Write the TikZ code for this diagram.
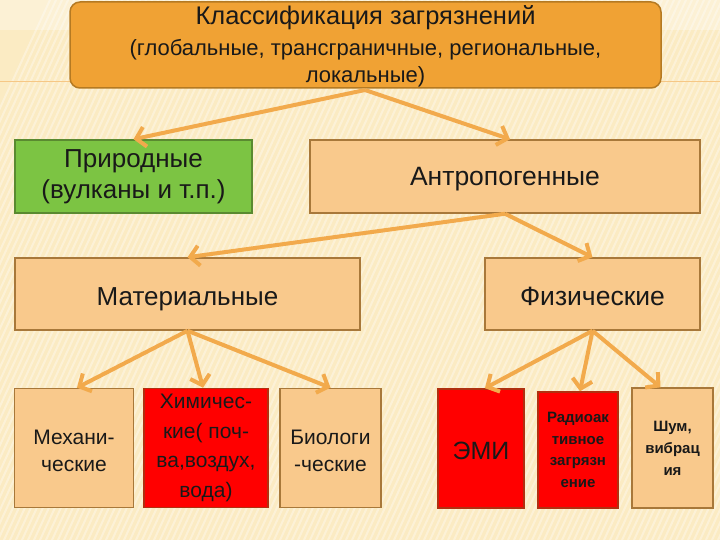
\documentclass[tikz,border=0pt]{standalone}
\usepackage{fontspec}
\setmainfont{Liberation Sans}
\usetikzlibrary{arrows.meta,calc}
\definecolor{bg}{HTML}{FBEBC3}
\definecolor{topfill}{HTML}{F0A234}
\definecolor{topdraw}{HTML}{B57A22}
\definecolor{peach}{HTML}{F9C98C}
\definecolor{peachdraw}{HTML}{A8783A}
\definecolor{grn}{HTML}{7CC443}
\definecolor{grndraw}{HTML}{5A8A30}
\definecolor{redfill}{HTML}{FF0000}
\definecolor{reddraw}{HTML}{B03010}
\definecolor{arr}{HTML}{F2AA4C}
\newcommand{\fs}[2]{\fontsize{#1}{#2}\selectfont}
\tikzset{
  box/.style={draw, line width=1.5pt, rectangle, inner sep=0pt, align=center, text=black!90},
  peachbox/.style={box, fill=peach, draw=peachdraw},
  redbox/.style={box, fill=redfill, draw=reddraw},
  greenbox/.style={box, fill=grn, draw=grndraw},
  lbl/.style={align=center, text=black!90, inner sep=0pt},
  arrow/.style={draw=arr, line width=4pt, -{Straight Barb[length=9pt,width=20pt,line width=4pt]}}
}
\begin{document}
\begin{tikzpicture}[x=1pt,y=-1pt]
\fill[bg] (0,0) rectangle (720,540);
\useasboundingbox (0,0) rectangle (720,540);
\begin{scope}
\clip (0,0) rectangle (720,540);
\foreach \i in {-200,-194,...,720} {
  \draw[white, opacity=0.35, line width=2pt] (\i,540) -- (\i+250,0);
}
\end{scope}
\fill[white, opacity=0.3] (0,0) rectangle (720,30);
\draw[topfill!60, line width=1pt] (0,82) -- (720,82);

\node[box, fill=topfill, draw=topdraw, rounded corners=10pt, minimum width=591pt, minimum height=86pt] (top) at (365.5,45) {};
\node[font=\fs{25.5}{30}, text=black!90] (t1) at (365.5,18) {Классификация загрязнений};
\node[align=center, font=\fs{22}{27}, text=black!90] (t2) at (365.5,63) {(глобальные, трансграничные, региональные,\\локальные)};

\node[greenbox, minimum width=237pt, minimum height=73pt, font=\fs{26}{31}] (prir) at (133.5,176.5) {Природные\\(вулканы и т.п.)};
\node[peachbox, minimum width=390pt, minimum height=73pt] (antr) at (505,176.5) {};
\node[lbl, font=\fs{26.5}{30}, anchor=base] (antrl) at (505,186) {Антропогенные};
\node[peachbox, minimum width=345pt, minimum height=72pt] (mat) at (187.5,294) {};
\node[lbl, font=\fs{26}{30}, anchor=base] (matl) at (187.5,305) {Материальные};
\node[peachbox, minimum width=215pt, minimum height=72pt] (fiz) at (592.5,294) {};
\node[lbl, font=\fs{26.5}{30}, anchor=base] (fizl) at (592.5,305) {Физические};

\node[peachbox, minimum width=119pt, minimum height=119pt] (mech) at (74,448) {};
\node[lbl, font=\fs{21}{27}] (mechl) at (74,451) {Механи-\\ческие};
\node[redbox, minimum width=124pt, minimum height=119pt, font=\fs{21}{29.5}] (chem) at (206,448) {Химичес-\\кие( поч-\\ва,воздух,\\вода)};
\node[peachbox, minimum width=101pt, minimum height=119pt] (bio) at (330.5,448) {};
\node[lbl, font=\fs{21}{27}] (biol) at (330.5,451) {Биологи\\-ческие};
\node[redbox, minimum width=86pt, minimum height=119pt] (emi) at (481,448.5) {};
\node[lbl, font=\fs{25}{30}] (emil) at (481,451) {ЭМИ};
\node[redbox, minimum width=80pt, minimum height=116pt, font=\fs{15}{21.5}\bfseries] (rad) at (578,450) {Радиоак\\тивное\\загрязн\\ение};
\node[peachbox, minimum width=81pt, minimum height=120pt, font=\fs{15}{22}\bfseries] (shum) at (672.5,448) {Шум,\\вибрац\\ия};

\coordinate (topapex) at (365,90);
\draw[arrow] (topapex) -- (prir.north);
\draw[arrow] (topapex) -- ($(antr.north)+(5,0)$);
\draw[arrow] (antr.south) -- (mat.north);
\draw[arrow] (antr.south) -- (fiz.north);
\draw[arrow] (mat.south) -- ($(mech.north)+(3,0)$);
\draw[arrow] (mat.south) -- ($(chem.north)+(-3,0)$);
\draw[arrow] (mat.south) -- (bio.north);
\draw[arrow] (fiz.south) -- ($(emi.north)+(4,0)$);
\draw[arrow] (fiz.south) -- ($(rad.north)+(2,0)$);
\draw[arrow] (fiz.south) -- ($(shum.north)+(-12,0)$);
\end{tikzpicture}
\end{document}
